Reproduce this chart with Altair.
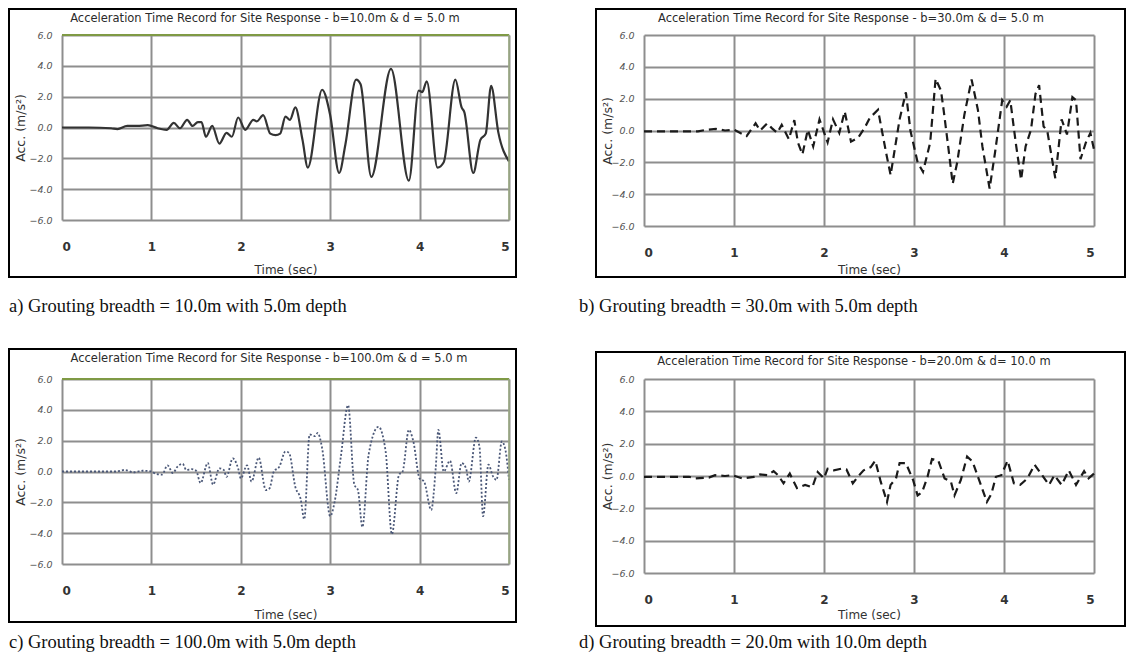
import altair as alt
import pandas as pd

# ---------------- data ----------------
TIME_TICKS = [0, 1, 2, 3, 4, 5]
ACC_TICKS = [-6, -4, -2, 0, 2, 4, 6]

titles = [
    "Acceleration  Time Record for Site Response - b=10.0m  & d = 5.0 m",
    "Acceleration  Time Record for Site Response - b=30.0m  & d=  5.0 m",
    "Acceleration  Time Record for Site Response - b=100.0m  & d = 5.0 m",
    "Acceleration  Time Record for Site Response - b=20.0m  & d=  10.0 m",
]
captions = [
    "a)  Grouting breadth = 10.0m with 5.0m depth",
    "b)  Grouting breadth = 30.0m with 5.0m depth",
    "c)  Grouting breadth = 100.0m with 5.0m depth",
    "d)  Grouting breadth = 20.0m with 10.0m depth",
]

t_a = [0, 0.3, 0.55, 0.62, 0.73, 0.84, 0.96, 1.07, 1.17, 1.25, 1.32, 1.40, 1.46, 1.52,
       1.56, 1.61, 1.68, 1.76, 1.84, 1.90, 1.97, 2.05, 2.14, 2.18, 2.25, 2.33, 2.39,
       2.44, 2.50, 2.55, 2.61, 2.69, 2.75, 2.91, 3.00, 3.10, 3.17, 3.29, 3.34, 3.46,
       3.68, 3.88, 3.99, 4.03, 4.08, 4.20, 4.27, 4.40, 4.47, 4.50, 4.60, 4.68, 4.74,
       4.80, 4.88, 5.00]
acc_a = [0, 0, -0.05, -0.1, 0.1, 0.1, 0.15, -0.05, -0.15, 0.3, -0.05, 0.5, 0.1, 0.35,
         0.35, -0.6, 0.1, -1.05, -0.35, -0.6, 0.65, -0.15, 0.5, 0.4, 0.8, -0.4, -0.5,
         -0.4, 0.7, 0.5, 1.3, -0.8, -2.6, 2.45, 0.8, -2.95, -1.1, 3.1, 2.8, -3.2,
         3.8, -3.45, 2.4, 2.3, 3.0, -2.6, -2.25, 3.1, 1.3, 1.0, -2.95, -0.8, -0.4,
         2.7, -0.3, -2.2]

t_b = [0, 0.6, 0.7, 0.8, 0.9, 1.0, 1.05, 1.14, 1.24, 1.29, 1.37, 1.42, 1.48, 1.53,
       1.61, 1.67, 1.71, 1.76, 1.82, 1.88, 1.95, 2.04, 2.10, 2.17, 2.23, 2.30, 2.38,
       2.45, 2.51, 2.60, 2.69, 2.74, 2.84, 2.91, 2.96, 3.04, 3.10, 3.18, 3.24, 3.30,
       3.33, 3.38, 3.43, 3.48, 3.56, 3.64, 3.71, 3.76, 3.84, 3.90, 3.98, 4.03, 4.07,
       4.13, 4.19, 4.24, 4.30, 4.35, 4.39, 4.44, 4.48, 4.57, 4.64, 4.70, 4.76, 4.80,
       4.85, 4.91, 4.96, 5.00]
acc_b = [-0.05, -0.05, 0.05, 0.1, 0.0, 0.05, -0.1, -0.35, 0.45, 0.0, 0.45, 0.15, -0.15,
         0.35, -0.55, 0.65, -0.75, -1.5, 0.05, -1.0, 0.7, -0.75, 0.7, -0.15, 1.2, -0.7,
         -0.45, 0.15, 0.8, 1.3, -1.4, -2.8, 0.7, 2.4, 0.0, -2.0, -2.6, -0.75, 3.25, 2.5,
         1.25, -1.0, -3.35, -2.0, 1.0, 3.2, 1.3, -1.0, -3.65, -1.4, 1.9, 1.5, 1.9,
         -0.75, -3.1, -1.0, 0.05, 2.3, 2.85, 0.25, 0.0, -3.0, 0.7, -0.25, 2.1, 1.9,
         -1.8, -0.75, -0.15, -1.2]

t_c = [0, 0.6, 0.65, 0.7, 0.8, 0.9, 1.0, 1.05, 1.12, 1.18, 1.24, 1.29, 1.35, 1.39,
       1.45, 1.50, 1.55, 1.63, 1.69, 1.76, 1.81, 1.84, 1.91, 1.97, 2.00, 2.07, 2.12,
       2.20, 2.28, 2.32, 2.37, 2.43, 2.50, 2.54, 2.61, 2.67, 2.71, 2.77, 2.83, 2.86,
       2.91, 3.00, 3.05, 3.12, 3.20, 3.27, 3.31, 3.36, 3.43, 3.54, 3.62, 3.69, 3.77,
       3.81, 3.88, 3.93, 4.00, 4.05, 4.13, 4.18, 4.21, 4.27, 4.34, 4.41, 4.47, 4.52,
       4.55, 4.63, 4.67, 4.71, 4.77, 4.82, 4.86, 4.92, 4.96, 5.00]
acc_c = [0, 0, 0.05, 0.1, -0.05, 0.05, 0.0, -0.15, -0.2, 0.4, -0.1, 0.3, 0.5, 0.1,
         0.15, 0.05, -0.75, 0.55, -0.85, 0.2, 0.1, -0.35, 0.85, 0.2, -0.45, 0.4, -0.65,
         0.9, -1.2, -1.1, 0.0, 0.3, 1.3, 1.2, -1.0, -1.8, -3.1, 2.4, 2.3, 2.5,
         1.5, -2.9, -1.95, 1.0, 4.3, -0.85, -1.2, -3.6, 1.1, 2.9, 1.3, -4.07, -0.2,
         0.0, 2.7, 1.95, -0.45, -0.65, -2.5, 0.2, 2.7, 0.0, 0.7, -1.4, 0.55, 0.2,
         -0.65, 2.2, 1.6, -2.9, 0.45, -0.3, -0.55, 1.95, 1.4, -0.55]

t_d = [0, 0.5, 0.57, 0.72, 0.79, 0.90, 0.98, 1.09, 1.22, 1.29, 1.37, 1.44, 1.49, 1.55,
       1.62, 1.70, 1.79, 1.87, 1.93, 2.00, 2.04, 2.11, 2.19, 2.25, 2.32, 2.39, 2.44,
       2.52, 2.57, 2.63, 2.70, 2.74, 2.80, 2.84, 2.91, 2.99, 3.04, 3.09, 3.15, 3.20,
       3.27, 3.34, 3.41, 3.45, 3.52, 3.59, 3.65, 3.73, 3.81, 3.86, 3.91, 3.97, 4.04,
       4.11, 4.18, 4.26, 4.34, 4.41, 4.50, 4.56, 4.64, 4.72, 4.80, 4.89, 4.94, 5.00]
acc_d = [-0.05, -0.05, -0.15, -0.1, 0.05, 0.0, 0.05, -0.15, -0.05, 0.1, 0.05, 0.3, 0.05,
         -0.45, 0.15, -0.75, -0.55, -0.7, 0.25, -0.15, 0.45, 0.35, 0.45, 0.4, -0.45,
         0.05, 0.35, 0.55, 0.95, -0.35, -1.6, -0.55, -0.15, 0.8, 0.8, -0.25, -1.2,
         -1.0, -0.05, 1.05, 0.95, -0.15, -0.35, -1.2, -0.25, 1.2, 0.9, -0.35, -1.6,
         -1.1, -0.05, 0.05, 0.95, -0.45, -0.55, -0.15, 0.7, 0.15, -0.55, 0.05, -0.55,
         0.35, -0.55, 0.3, -0.15, 0.15]

series = [(t_a, acc_a), (t_b, acc_b), (t_c, acc_c), (t_d, acc_d)]

# ---------------- styling ----------------
SANS = "DejaVu Sans"
SERIF = "Liberation Serif"
GRID = "#8e8e8e"
one = pd.DataFrame({"k": [0]})

styles = [
    dict(color="#333333", strokeWidth=2.2, interpolate="monotone"),
    dict(color="#1a1a1a", strokeWidth=2.2, strokeDash=[8, 5], interpolate="linear"),
    dict(color="#4b5878", strokeWidth=1.8, strokeDash=[2, 2], interpolate="monotone"),
    dict(color="#1a1a1a", strokeWidth=2.2, strokeDash=[8, 5], interpolate="linear"),
]

# per panel layout: plot w/h, title pos, frame box, caption pos, axis title offsets, green edges
layout = [
    dict(w=447, h=185, tx=203, ty=-16, fr=(-53, 454, -26, 242), cx=-53, cy=271, ytx=-42, xty=49, green=True),
    dict(w=450, h=191, tx=207, ty=-16, fr=(-48, 481, -26, 242), cx=-65, cy=271, ytx=-37, xty=43, green=False),
    dict(w=447, h=185, tx=207, ty=-20, fr=(-53, 454, -30, 243), cx=-53, cy=263, ytx=-42, xty=50, green=True),
    dict(w=450, h=194, tx=210, ty=-17, fr=(-48, 481, -27, 247), cx=-65, cy=263, ytx=-37, xty=41, green=False),
]


def panel(i):
    t, v = series[i]
    L = layout[i]
    df = pd.DataFrame({"t": t, "acc": v})
    x_enc = alt.X(
        "t:Q",
        scale=alt.Scale(domain=[0, 5], nice=False),
        axis=alt.Axis(
            values=TIME_TICKS, format="d", title="Time (sec)", grid=True,
            gridColor=GRID, gridWidth=2, ticks=False, domain=False, labelOverlap=False,
            labelPadding=21, labelFont=SANS, labelFontSize=12, labelFontWeight="bold",
            labelColor="#333333", titleFont=SANS, titleFontSize=12,
            titleFontWeight="normal", titleColor="#333333", titleY=L["xty"],
            titleBaseline="middle",
        ),
    )
    y_enc = alt.Y(
        "acc:Q",
        scale=alt.Scale(domain=[-6, 6], nice=False),
        axis=alt.Axis(
            values=ACC_TICKS, format=".1f", title="Acc.  (m/s²)", grid=True,
            gridColor=GRID, gridWidth=2, ticks=False, domain=False, labelOverlap=False,
            labelPadding=10, labelFont=SANS, labelFontSize=9.5, labelFontStyle="italic",
            labelColor="#555555", titleFont=SANS, titleFontSize=12.5,
            titleFontWeight="normal", titleColor="#333333", titleX=L["ytx"],
            titleBaseline="middle",
        ),
    )
    line = alt.Chart(df).mark_line(**styles[i]).encode(x=x_enc, y=y_enc)
    x0, x1, y0, y1 = L["fr"]
    frame = alt.Chart(one).mark_rect(filled=False, stroke="black", strokeWidth=2).encode(
        x=alt.value(x0), x2=alt.value(x1), y=alt.value(y0), y2=alt.value(y1)
    )
    title = alt.Chart(one).mark_text(
        text=titles[i], font=SANS, fontSize=11.5, color="#2a2a2a", align="center", baseline="middle"
    ).encode(x=alt.value(L["tx"]), y=alt.value(L["ty"]))
    cap = alt.Chart(one).mark_text(
        text=captions[i], font=SERIF, fontSize=18.5, color="#111111", align="left", baseline="middle"
    ).encode(x=alt.value(L["cx"]), y=alt.value(L["cy"]))
    layers = [frame, line]
    if L["green"]:
        # coloured plot-area edges (top and right) of panels a and c
        layers.append(alt.Chart(one).mark_rule(color="#7f9a45", strokeWidth=2).encode(
            x=alt.value(0), x2=alt.value(L["w"]), y=alt.value(0)))
        layers.append(alt.Chart(one).mark_rule(color="#9aaa80", strokeWidth=1.5).encode(
            x=alt.value(L["w"]), y=alt.value(0), y2=alt.value(L["h"])))
    layers += [title, cap]
    return alt.layer(*layers).properties(width=L["w"], height=L["h"])


chart = alt.concat(
    *[panel(i) for i in range(4)],
    columns=2,
    spacing=alt.RowColnumber(row=153, column=135),
).properties(
    bounds="flush", padding=0, background="white"
).configure_view(stroke=None)

chart.save("out.html", embed_options={"renderer": "svg", "actions": False})
